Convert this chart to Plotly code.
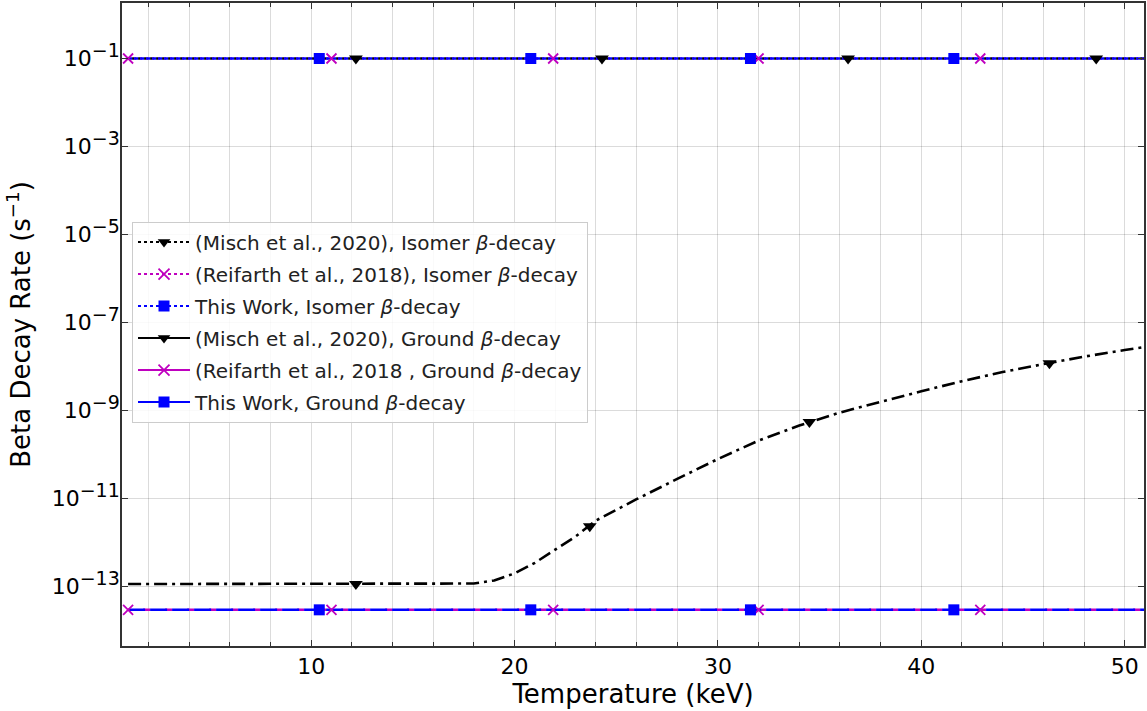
import plotly.graph_objects as go

# ---------------- data ----------------
# flat lines (isomer and ground rates that do not change with temperature)
line_T = [1, 51]
isomer_rate = [0.1, 0.1]
ground_rate_flat = [2.9e-14, 2.9e-14]

# Misch et al. 2020 ground-state beta-decay curve
misch_T = [1, 4, 8, 12, 16, 17, 18, 19, 20, 21, 22, 23, 24, 25, 26, 28, 30, 32,
           34, 36, 38, 40, 42, 44, 46, 48, 50, 51]
misch_ground = [1.12e-13, 1.12e-13, 1.12e-13, 1.12e-13, 1.12e-13, 1.12e-13,
                1.15e-13, 1.35e-13, 1.95e-13, 3.4e-13, 6.7e-13, 1.35e-12,
                3.1e-12, 5.5e-12, 9.5e-12, 2.75e-11, 7.8e-11, 2.05e-10,
                4.5e-10, 8.9e-10, 1.58e-9, 2.7e-9, 4.6e-9, 7.4e-9, 1.12e-8,
                1.66e-8, 2.34e-8, 2.75e-8]

# marker positions along each curve
misch_iso_mT = [12.2, 24.3, 36.4, 48.6]
misch_iso_mV = [0.1, 0.1, 0.1, 0.1]
reif_mT = [1.0, 11.0, 21.9, 32.0, 42.9]
reif_iso_mV = [0.1, 0.1, 0.1, 0.1, 0.1]
work_mT = [10.4, 20.8, 31.6, 41.6]
work_iso_mV = [0.1, 0.1, 0.1, 0.1]
misch_gr_mT = [12.2, 23.7, 34.5, 46.3]
misch_gr_mV = [1.12e-13, 2.3e-12, 5.4e-10, 1.17e-8]
reif_gr_mV = [2.9e-14, 2.9e-14, 2.9e-14, 2.9e-14, 2.9e-14]
work_gr_mV = [2.9e-14, 2.9e-14, 2.9e-14, 2.9e-14]

labels = [
    "(Misch et al., 2020), Isomer <i>β</i>-decay",
    "(Reifarth et al., 2018), Isomer <i>β</i>-decay",
    "This Work, Isomer <i>β</i>-decay",
    "(Misch et al., 2020), Ground <i>β</i>-decay",
    "(Reifarth et al., 2018 , Ground <i>β</i>-decay",
    "This Work, Ground <i>β</i>-decay",
]

y_exps = [-13, -11, -9, -7, -5, -3, -1]

# ---------------- styles ----------------
BLACK = "#000000"
MAG = "#bf00bf"
BLUE = "#0000ff"
FONT = "DejaVu Sans"

dash_k_dot = "0px,4px,2px,0px"
dash_m_dot = "2px,4px"
dash_b_dot = "4px,2px"
dash_k_dd = "13px,5px,3px,5px"
dash_m_da = "0px,15px,7px,0px"
dash_b_da = "17px,5px"

fig = go.Figure()

def add_line(x, y, color, dash, width=2.5):
    fig.add_trace(go.Scatter(x=x, y=y, mode="lines", showlegend=False,
                             line=dict(color=color, dash=dash, width=width),
                             hoverinfo="skip"))

def add_markers(x, y, color, symbol, size, lw=0):
    fig.add_trace(go.Scatter(x=x, y=y, mode="markers", showlegend=False,
                             marker=dict(color=color, symbol=symbol, size=size,
                                         line=dict(color=color, width=lw))))

# isomer lines
add_line(line_T, isomer_rate, MAG, dash_m_dot)
add_line(line_T, isomer_rate, BLACK, dash_k_dot)
add_line(line_T, isomer_rate, BLUE, dash_b_dot)
add_markers(misch_iso_mT, misch_iso_mV, BLACK, "triangle-down", 12)
add_markers(reif_mT, reif_iso_mV, MAG, "x-thin-open", 10, 1.8)
add_markers(work_mT, work_iso_mV, BLUE, "square", 11)

# ground lines
add_line(misch_T, misch_ground, BLACK, dash_k_dd, 2.6)
add_line(line_T, ground_rate_flat, MAG, dash_m_da)
add_line(line_T, ground_rate_flat, BLUE, dash_b_da)
add_markers(misch_gr_mT, misch_gr_mV, BLACK, "triangle-down", 12)
add_markers(reif_mT, reif_gr_mV, MAG, "x-thin-open", 10, 1.8)
add_markers(work_mT, work_gr_mV, BLUE, "square", 11)

# legend-only entries
leg_styles = [
    (BLACK, "dot", "triangle-down", 0),
    (MAG, "dot", "x-thin-open", 1.8),
    (BLUE, "dot", "square", 0),
    (BLACK, "solid", "triangle-down", 0),
    (MAG, "solid", "x-thin-open", 1.8),
    (BLUE, "solid", "square", 0),
]
for i, (lab, (c, d, s, lw)) in enumerate(zip(labels, leg_styles)):
    fig.add_trace(go.Scatter(x=[None], y=[None], mode="lines+markers", name=lab,
                             legendgroup=f"g{i}",
                             line=dict(color=c, dash=d, width=2),
                             marker=dict(color=c, symbol=s, size=11,
                                         line=dict(color=c, width=lw))))

GRID = "rgba(0,0,0,0.14)"
AX = "#333333"

fig.update_layout(
    width=1147, height=711,
    margin=dict(l=122, r=3, t=1, b=65),
    paper_bgcolor="white", plot_bgcolor="white",
    font=dict(family=FONT, size=22, color="black"),
    showlegend=True,
    legend=dict(x=0.0098, y=0.66, xanchor="left", yanchor="top",
                font=dict(family=FONT, size=20, color="#222222"),
                bgcolor="rgba(255,255,255,0.85)", bordercolor="#cccccc",
                borderwidth=1, tracegroupgap=3, itemwidth=52),
    xaxis=dict(
        range=[0.7, 50.95], tick0=0, dtick=10,
        ticks="inside", ticklen=6, tickwidth=1.2, tickcolor=AX,
        showline=True, linecolor=AX, linewidth=1.6, mirror="ticks",
        showgrid=True, gridcolor=GRID, gridwidth=1, zeroline=False,
        tickfont=dict(family=FONT, size=22),
        minor=dict(dtick=2, tick0=0, ticks="inside", ticklen=4, tickwidth=1,
                   tickcolor=AX, showgrid=True, gridcolor=GRID, gridwidth=1),
        title=dict(text="Temperature (keV)", font=dict(family=FONT, size=26),
                   standoff=2),
    ),
    yaxis=dict(
        type="log", range=[-14.36, 0.262],
        tickvals=[10.0 ** e for e in y_exps],
        ticktext=[f"10<sup><span style='font-size:19px'>−{-e}</span></sup>"
                  for e in y_exps],
        ticks="inside", ticklen=6, tickwidth=1.2, tickcolor=AX,
        showline=True, linecolor=AX, linewidth=1.6, mirror="ticks",
        showgrid=True, gridcolor=GRID, gridwidth=1, zeroline=False,
        tickfont=dict(family=FONT, size=22), ticklabelstandoff=-4,
        title=dict(text="Beta Decay Rate (s<sup>−1</sup>)",
                   font=dict(family=FONT, size=26), standoff=14),
    ),
)

fig.write_html(
    "out.html",
    config={"displayModeBar": False},
    post_script="document.body.style.margin='0';document.body.style.overflow='hidden';",
)
